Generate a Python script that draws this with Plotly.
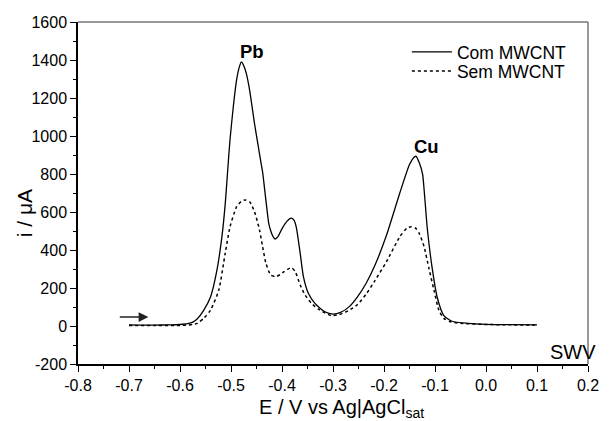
import plotly.graph_objects as go

# Square-wave voltammograms: potential (V vs Ag|AgCl sat) and current (µA)
e_com = [-0.700, -0.680, -0.650, -0.620, -0.600, -0.585, -0.575, -0.566, -0.553, -0.540,
         -0.5275, -0.5178, -0.5114, -0.507, -0.502, -0.4955, -0.489, -0.4835, -0.4795, -0.475,
         -0.470, -0.4635, -0.454, -0.4475, -0.441, -0.438, -0.4315, -0.426, -0.422, -0.4175,
         -0.4135, -0.408, -0.3996, -0.390, -0.3835, -0.380, -0.376, -0.372, -0.3643, -0.358,
         -0.3484, -0.3355, -0.316, -0.300, -0.285, -0.268, -0.2524, -0.235, -0.218, -0.1948,
         -0.169, -0.150, -0.1404, -0.137, -0.131, -0.1244, -0.1213, -0.1148, -0.105, -0.0956,
         -0.0827, -0.0668, -0.035, 0.0, 0.05, 0.1]
i_com = [6, 5, 5, 6, 8, 12, 20, 38, 85, 154,
         295, 470, 640, 800, 979, 1154, 1295, 1365, 1390, 1370,
         1330, 1242, 1067, 961, 856, 810, 660, 540, 500, 470,
         458, 470, 514, 552, 566, 567, 555, 520, 382, 260,
         172, 119, 75, 63, 72, 102, 152, 225, 318, 480,
         700, 850, 890, 893, 860, 800, 716, 505, 295, 150,
         55, 25, 14, 9, 7, 6]

e_sem = [-0.700, -0.650, -0.600, -0.585, -0.575, -0.566, -0.553, -0.540, -0.524, -0.5114,
         -0.5018, -0.489, -0.480, -0.473, -0.4635, -0.454, -0.444, -0.438, -0.4315, -0.422,
         -0.412, -0.404, -0.396, -0.3816, -0.374, -0.3643, -0.3547, -0.342, -0.326, -0.3035,
         -0.288, -0.270, -0.2524, -0.235, -0.218, -0.1948, -0.169, -0.155, -0.1468, -0.138,
         -0.131, -0.1213, -0.1117, -0.102, -0.0925, -0.0827, -0.070, -0.05, 0.0, 0.05, 0.1]
i_sem = [3, 2, 3, 5, 8, 14, 42, 84, 189, 382,
         523, 628, 655, 663, 654, 602, 505, 417, 330, 268,
         260, 270, 286, 307, 286, 216, 163, 119, 84, 55,
         60, 80, 112, 168, 238, 340, 470, 515, 523, 515,
         488, 417, 300, 189, 84, 40, 22, 14, 8, 6, 5]

series_names = ["Com MWCNT", "Sem MWCNT"]
x_ticks = [-0.8, -0.7, -0.6, -0.5, -0.4, -0.3, -0.2, -0.1, 0.0, 0.1, 0.2]
x_labels = ["-0.8", "-0.7", "-0.6", "-0.5", "-0.4", "-0.3", "-0.2", "-0.1", "0.0", "0.1", "0.2"]
y_ticks = [-200, 0, 200, 400, 600, 800, 1000, 1200, 1400, 1600]
y_labels = ["-200", "0", "200", "400", "600", "800", "1000", "1200", "1400", "1600"]

FONT = "Arial, Liberation Sans, sans-serif"
PLOT_L, PLOT_R, PLOT_T, PLOT_B = 78, 599, 22, 364


def px_to_paper(px, py):
    return ((px - PLOT_L) / (PLOT_R - PLOT_L), (PLOT_B - py) / (PLOT_B - PLOT_T))


fig = go.Figure()
fig.add_trace(go.Scatter(x=e_com, y=i_com, mode="lines", name=series_names[0], legend="legend",
                         line=dict(color="black", width=1.3, shape="spline", smoothing=0.6)))
fig.add_trace(go.Scatter(x=e_sem, y=i_sem, mode="lines", name=series_names[1], legend="legend2",
                         line=dict(color="black", width=1.5, dash="dot", shape="spline", smoothing=0.6)))

# Peak labels and scan direction arrow
fig.add_annotation(x=-0.467, y=1444, text="<b>Pb</b>", showarrow=False, xshift=4,
                   font=dict(family=FONT, size=18.5, color="black"))
fig.add_annotation(x=-0.128, y=944, text="<b>Cu</b>", showarrow=False, xshift=6,
                   font=dict(family=FONT, size=18.5, color="black"))
fig.add_annotation(x=-0.662, y=47, ax=-0.721, ay=47, axref="x", ayref="y",
                   text="", showarrow=True, arrowhead=2, arrowsize=1.3,
                   arrowwidth=1.5, arrowcolor="#222222")

sx, sy = px_to_paper(608, 352)
fig.add_annotation(x=sx, y=sy, xref="paper", yref="paper", xanchor="right", yanchor="middle",
                   text="SWV", showarrow=False, borderpad=0,
                   font=dict(family=FONT, size=20, color="black"))

# Axis titles
tx, ty = px_to_paper(23, 213)
fig.add_annotation(x=tx, y=ty, xref="paper", yref="paper", xanchor="center", yanchor="middle",
                   text="i / μA", showarrow=False, textangle=-90,
                   font=dict(family=FONT, size=21, color="black"))
bx, by = px_to_paper(347, 394)
fig.add_annotation(x=bx, y=by, xref="paper", yref="paper", xanchor="center", yanchor="top",
                   text="E / V vs Ag|AgCl<sub>sat</sub>", showarrow=False,
                   font=dict(family=FONT, size=20, color="black"))

# Top and right frame lines in grey
fig.add_shape(type="line", xref="paper", yref="paper", x0=0, x1=1, y0=1, y1=1,
              line=dict(color="#777777", width=1.5))
fig.add_shape(type="line", xref="paper", yref="paper", x0=1, x1=1, y0=0, y1=1,
              line=dict(color="#777777", width=1.5))

fig.update_xaxes(range=[-0.8, 0.2], tickvals=x_ticks, ticktext=x_labels,
                 ticks="outside", ticklen=6, tickwidth=1.3, tickcolor="black",
                 showline=True, linecolor="black", linewidth=1.5, showgrid=False, zeroline=False,
                 minor=dict(dtick=0.05, ticks="outside", ticklen=3, tickwidth=1.3, tickcolor="black", showgrid=False),
                 tickfont=dict(family=FONT, size=16, color="black"))
fig.update_yaxes(range=[-200, 1600], tickvals=y_ticks, ticktext=y_labels,
                 ticks="outside", ticklen=6, tickwidth=1.3, tickcolor="black",
                 showline=True, linecolor="black", linewidth=1.5, showgrid=False, zeroline=False,
                 minor=dict(dtick=100, ticks="outside", ticklen=3, tickwidth=1.3, tickcolor="black", showgrid=False),
                 tickfont=dict(family=FONT, size=16, color="black"))

lx1, ly1 = px_to_paper(414, 52)
lx2, ly2 = px_to_paper(414, 71)
legend_style = dict(xanchor="left", yanchor="middle", bgcolor="rgba(0,0,0,0)", borderwidth=0,
                    font=dict(family=FONT, size=17.5, color="black"), itemwidth=40)
fig.update_layout(
    width=611, height=421,
    margin=dict(l=PLOT_L, r=611 - PLOT_R, t=PLOT_T, b=421 - PLOT_B),
    paper_bgcolor="white", plot_bgcolor="white",
    showlegend=True,
    legend=dict(x=lx1, y=ly1, **legend_style),
    legend2=dict(x=lx2, y=ly2, **legend_style),
)

fig.write_html("out.html")
